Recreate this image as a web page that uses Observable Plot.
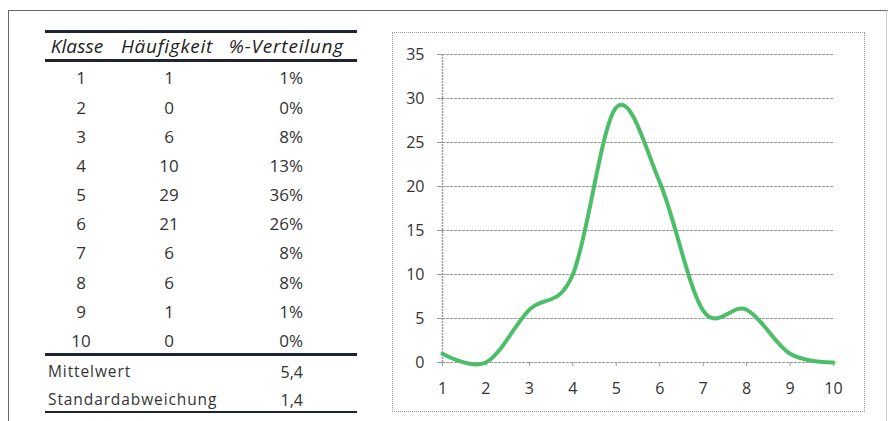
<!DOCTYPE html>
<html>
<head>
<meta charset="utf-8">
<script src="https://cdn.jsdelivr.net/npm/d3@7"></script>
<script src="https://cdn.jsdelivr.net/npm/@observablehq/plot@0.6"></script>
<style>
  html, body { margin: 0; padding: 0; background: #fff; }
  #page { position: relative; width: 888px; height: 421px; overflow: hidden; font-family: "Open Sans", Lato, sans-serif; color: #333; }
  .hl { position: absolute; background: #1e2433; }
  .cell { position: absolute; white-space: nowrap; line-height: 1; }
  #chartbox { position: absolute; left: 392px; top: 32px; width: 471px; height: 378px; border: 1px dotted #9a9a9a; }
  #chartbox svg { display: block; }
</style>
</head>
<body>
<div id="page"></div>
<script>
// ---- data ----
const headers = ["Klasse", "Häufigkeit", "%-Verteilung"];
const klassen = [1, 2, 3, 4, 5, 6, 7, 8, 9, 10];
const haeufigkeit = [1, 0, 6, 10, 29, 21, 6, 6, 1, 0];
const verteilung = ["1%", "0%", "8%", "13%", "36%", "26%", "8%", "8%", "1%", "0%"];
const summaryLabels = ["Mittelwert", "Standardabweichung"];
const summaryValues = ["5,4", "1,4"];
// values as drawn by the line in the chart
const lineValues = [1, 0, 6, 10, 29, 20.5, 5.9, 6, 1, 0];
const yTicks = [0, 5, 10, 15, 20, 25, 30, 35];
const xTicks = [1, 2, 3, 4, 5, 6, 7, 8, 9, 10];

const page = document.getElementById("page");

// outer frame
function box(l, t, w, h, bg) {
  const d = document.createElement("div");
  d.style.cssText = `position:absolute;left:${l}px;top:${t}px;width:${w}px;height:${h}px;background:${bg}`;
  page.appendChild(d);
}
box(8, 10, 1, 411, "#666");
box(8, 10, 880, 1, "#666");
box(886, 10, 1, 411, "#ccc");

// table rules
function hline(y, h) {
  const d = document.createElement("div");
  d.className = "hl";
  d.style.cssText += `left:45px;width:312px;top:${y}px;height:${h}px`;
  page.appendChild(d);
}
hline(30, 3); hline(59, 3); hline(353, 3); hline(411, 2);

function cell(text, x, yc, align, size, style) {
  const d = document.createElement("div");
  d.className = "cell";
  d.textContent = text;
  d.style.fontSize = size + "px";
  d.style.top = (yc - size * 0.62) + "px";
  if (style) d.style.cssText += style;
  if (align === "center") { d.style.left = (x - 100) + "px"; d.style.width = "200px"; d.style.textAlign = "center"; }
  else if (align === "right") { d.style.left = (x - 200) + "px"; d.style.width = "200px"; d.style.textAlign = "right"; }
  else { d.style.left = x + "px"; }
  page.appendChild(d);
}
const hStyle = "font-style:italic;color:#222;";
cell(headers[0], 77, 48.5, "center", 19, hStyle + "letter-spacing:0.1px;");
cell(headers[1], 167, 48.5, "center", 19, hStyle + "letter-spacing:0.7px;");
cell(headers[2], 344, 48.5, "right", 19, hStyle + "letter-spacing:0.8px;");
klassen.forEach((k, i) => {
  const yc = 80 + i * 29.17;
  cell(String(k), 81, yc, "center", 17);
  cell(String(haeufigkeit[i]), 169, yc, "center", 17);
  cell(verteilung[i], 303, yc, "right", 17);
});
summaryLabels.forEach((s, i) => {
  const yc = 374 + i * 28;
  cell(s, 48, yc, "left", 15.5, "letter-spacing:0.9px;");
  cell(summaryValues[i], 303, yc, "right", 16);
});

// chart
const data = klassen.map((k, i) => ({klasse: k, wert: lineValues[i]}));
const chart = Plot.plot({
  width: 471,
  height: 378,
  marginLeft: 49,
  marginTop: 21,
  marginBottom: 49,
  marginRight: 31,
  style: {fontFamily: "'Open Sans', Lato, sans-serif", fontSize: "16px", color: "#333", background: "#fff"},
  x: {domain: [1, 10]},
  y: {domain: [0, 35]},
  marks: [
    Plot.ruleY(yTicks, {stroke: "#9a9a9a", strokeWidth: 1.2, strokeDasharray: "3,1"}),
    Plot.ruleX([1], {stroke: "#9a9a9a", strokeWidth: 1.5, strokeDasharray: "2,1"}),
    Plot.axisY({ticks: yTicks, tickSize: 5, tickPadding: 13, stroke: "#9a9a9a", label: null, fill: "#333", fontSize: 16}),
    Plot.axisX({ticks: xTicks, tickSize: 4, tickPadding: 16, stroke: "#9a9a9a", label: null, fill: "#333", fontSize: 16}),
    Plot.line(data, {x: "klasse", y: "wert", curve: "cardinal", stroke: "#4cbe69", strokeWidth: 4, strokeLinecap: "round"})
  ]
});
const cb = document.createElement("div");
cb.id = "chartbox";
cb.appendChild(chart);
page.appendChild(cb);
</script>
</body>
</html>
